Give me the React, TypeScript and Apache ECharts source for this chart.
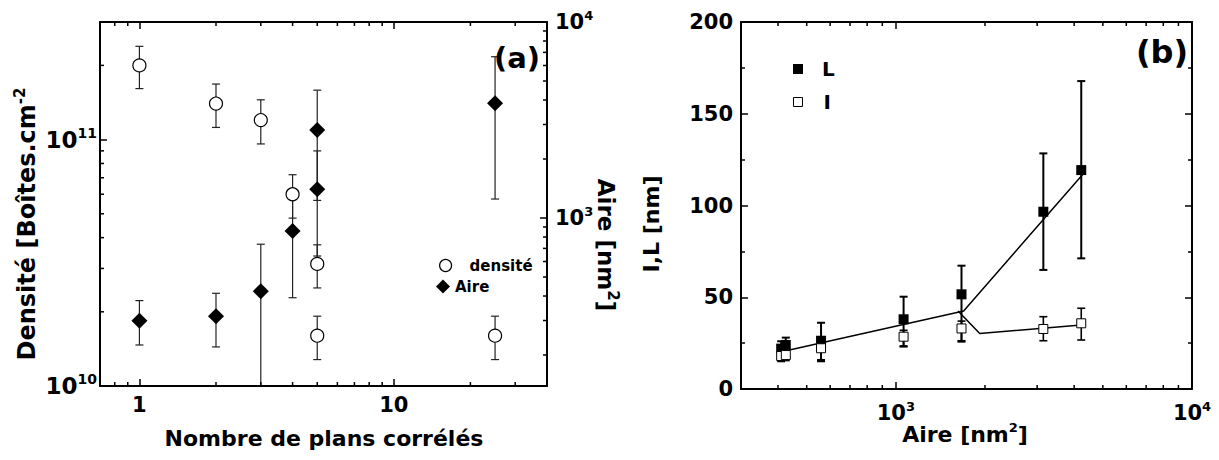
import React, { useEffect, useRef } from "react";
import * as echarts from "echarts";

const FONT = "DejaVu Sans";

// ---------- Panel (a) data ----------
const planCounts = [1, 2, 3, 4, 5, 5, 25];
const densite = [2.0e11, 1.4e11, 1.2e11, 6.0e10, 3.13e10, 1.6e10, 1.6e10];
const densiteLow = [1.61e11, 1.12e11, 9.6e10, 4.8e10, 2.5e10, 1.28e10, 1.28e10];
const densiteHigh = [2.39e11, 1.68e11, 1.45e11, 7.2e10, 3.74e10, 1.92e10, 1.92e10];
const aire = [299, 315, 423, 858, 2810, 1400, 3850];
const aireLow = [225, 220, 111, 392, 1230, 640, 1250];
const aireHigh = [379, 413, 735, 1324, 4490, 2200, 6650];

// ---------- Panel (b) data ----------
const aireB = [410, 425, 559, 1062, 1666, 3148, 4227];
const lValues = [22, 24, 26.3, 38, 51.6, 96.6, 119.3];
const lLow = [19, 20, 15.8, 23.4, 25.8, 64.9, 71.2];
const lHigh = [26, 28, 36.1, 50.3, 67.2, 128.4, 167.8];
const iValues = [18, 18.5, 22.2, 28.5, 33, 32.7, 35.8];
const iLow = [15, 15.5, 15, 23, 26.3, 26.3, 26.7];
const iHigh = [21, 22, 27, 32, 37, 39.4, 44];
const fitLX = [437, 1694, 4325];
const fitLY = [21.3, 42.5, 117.9];
const fitIX = [1622, 1920, 4325];
const fitIY = [42.5, 30.3, 35];

// ---------- tick values ----------
const xMajorA = [1, 10];
const xMinorA = [0.8, 0.9, 2, 3, 4, 5, 6, 7, 8, 9, 20, 30];
const yLeftMajorA = [1e10, 1e11];
const yLeftMinorA = [2e10, 3e10, 4e10, 5e10, 6e10, 7e10, 8e10, 9e10, 2e11];
const yRightMajorA = [1e3, 1e4];
const yRightMinorA = [200, 300, 400, 500, 600, 700, 800, 900, 2000, 3000, 4000, 5000, 6000, 7000, 8000, 9000];
const xMajorB = [1e3, 1e4];
const xMinorB = [400, 500, 600, 700, 800, 900, 2000, 3000, 4000, 5000, 6000, 7000, 8000, 9000];

const isPow10 = (v: number) => Math.abs(Math.log10(v) - Math.round(Math.log10(v))) < 1e-6;

const mkRich = (base: number, sup: number) => ({
  b: { fontFamily: FONT, fontWeight: "bold", fontSize: base, color: "#000", lineHeight: base + 5, verticalAlign: "middle" },
  s: { fontFamily: FONT, fontWeight: "bold", fontSize: sup, color: "#000", lineHeight: sup + 1, verticalAlign: "top" },
});
const richA = mkRich(23, 14);
const richB = mkRich(21, 13);

const powLabel = (v: number) => (isPow10(v) ? `{b|10}{s|${Math.round(Math.log10(v))}}` : "");
const plainLabel = (v: number) => (isPow10(v) ? `{b|${Math.round(v)}}` : "");

const axisLineStyle = { color: "#000", width: 2 };
const tickLine = { color: "#000", width: 1.5 };

function logAxis(grid: number, position: string, min: number, max: number, ticks: number[], label: any) {
  return {
    type: "log",
    logBase: 10,
    gridIndex: grid,
    position,
    min,
    max,
    axisLine: { show: true, onZero: false, lineStyle: axisLineStyle },
    axisTick: { show: true, inside: true, length: 7, customValues: ticks, lineStyle: tickLine },
    axisLabel: label ? { ...label } : { show: false },
    splitLine: { show: false },
    minorTick: { show: false },
    minorSplitLine: { show: false },
  };
}

const errRender = (half: number, lw: number, color: string) => (params: any, api: any) => {
  const x = api.value(0);
  const lo = api.value(1);
  const hi = api.value(2);
  const a = api.coord([x, hi]);
  const b = api.coord([x, lo]);
  const st = { stroke: color, lineWidth: lw };
  return {
    type: "group",
    children: [
      { type: "line", shape: { x1: a[0], y1: a[1], x2: b[0], y2: b[1] }, style: st },
      { type: "line", shape: { x1: a[0] - half, y1: a[1], x2: a[0] + half, y2: a[1] }, style: st },
      { type: "line", shape: { x1: b[0] - half, y1: b[1], x2: b[0] + half, y2: b[1] }, style: st },
    ],
  };
};

// minor tick marks drawn through the axes' own scales
const tickRender = (dir: "x" | "y", sides: string[], len: number) => (params: any, api: any) => {
  const cs = params.coordSys;
  const p = api.coord([api.value(0), api.value(1)]);
  const st = { stroke: "#000", lineWidth: 1.5 };
  const children: any[] = [];
  if (dir === "x") {
    if (sides.includes("bottom"))
      children.push({ type: "line", shape: { x1: p[0], y1: cs.y + cs.height, x2: p[0], y2: cs.y + cs.height - len }, style: st });
    if (sides.includes("top"))
      children.push({ type: "line", shape: { x1: p[0], y1: cs.y, x2: p[0], y2: cs.y + len }, style: st });
  } else {
    if (sides.includes("left"))
      children.push({ type: "line", shape: { x1: cs.x, y1: p[1], x2: cs.x + len, y2: p[1] }, style: st });
    if (sides.includes("right"))
      children.push({ type: "line", shape: { x1: cs.x + cs.width, y1: p[1], x2: cs.x + cs.width - len, y2: p[1] }, style: st });
  }
  return { type: "group", children };
};

const tickSeries = (xi: number, yi: number, data: number[][], dir: "x" | "y", sides: string[]) => ({
  type: "custom", xAxisIndex: xi, yAxisIndex: yi, silent: true, z: 5, clip: false,
  data, encode: { x: 0, y: 1 },
  renderItem: tickRender(dir, sides, 4),
});

const textBold = (size: number) => ({ fontFamily: FONT, fontWeight: "bold", fontSize: size, fill: "#000" });

export default function App() {
  const ref = useRef<HTMLDivElement>(null);
  useEffect(() => {
    if (!ref.current) return;
    const chart = echarts.init(ref.current, null, { renderer: "svg" });

    const legendText = (size: number, padLeft: number) => ({
      fontFamily: FONT, fontWeight: "bold", fontSize: size, color: "#000", padding: [0, 0, 0, padLeft],
    });

    const option: any = {
      animation: false,
      backgroundColor: "#fff",
      grid: [
        { left: 100, top: 22, width: 447, height: 364, containLabel: false, outerBoundsMode: "none" },
        { left: 741, top: 22, width: 451, height: 367, containLabel: false, outerBoundsMode: "none" },
      ],
      xAxis: [
        logAxis(0, "bottom", 0.7, 40, xMajorA, { show: true, customValues: xMajorA, formatter: plainLabel, rich: richB, margin: 6 }),
        logAxis(0, "top", 0.7, 40, xMajorA, null),
        logAxis(1, "bottom", 300, 10000, xMajorB, { show: true, customValues: xMajorB, formatter: powLabel, rich: richB, margin: 11 }),
        logAxis(1, "top", 300, 10000, xMajorB, null),
      ],
      yAxis: [
        logAxis(0, "left", 1e10, 3e11, yLeftMajorA, { show: true, customValues: yLeftMajorA, formatter: powLabel, rich: richA, margin: 3 }),
        logAxis(0, "right", 139, 10000, yRightMajorA, { show: true, customValues: yRightMajorA, formatter: powLabel, rich: richB, margin: 8 }),
        {
          type: "value", gridIndex: 1, position: "left", min: 0, max: 200, interval: 50,
          axisLine: { show: true, onZero: false, lineStyle: axisLineStyle },
          axisTick: { show: true, inside: true, length: 7, lineStyle: tickLine },
          minorTick: { show: true, splitNumber: 2, length: 4, lineStyle: tickLine },
          axisLabel: { show: true, margin: 8, formatter: (v: number) => `{b|${v}}`, rich: richB },
          splitLine: { show: false },
        },
        {
          type: "value", gridIndex: 1, position: "right", min: 0, max: 200, interval: 50,
          axisLine: { show: true, onZero: false, lineStyle: axisLineStyle },
          axisTick: { show: true, inside: true, length: 7, lineStyle: tickLine },
          minorTick: { show: true, splitNumber: 2, length: 4, lineStyle: tickLine },
          axisLabel: { show: false },
          splitLine: { show: false },
        },
      ],
      legend: [
        {
          data: [{ name: "densité", icon: "circle", itemStyle: { color: "#fff", borderColor: "#000", borderWidth: 1.2 } }],
          left: 439, top: 258, padding: 0, itemWidth: 12, itemHeight: 12, selectedMode: false,
          textStyle: legendText(15, 13),
        },
        {
          data: [{ name: "Aire", icon: "diamond", itemStyle: { color: "#000" } }],
          left: 436, top: 279, padding: 0, itemWidth: 14, itemHeight: 14, selectedMode: false,
          textStyle: legendText(15, 0),
        },
        {
          data: [{ name: "L", icon: "rect", itemStyle: { color: "#000" } }],
          left: 793, top: 59, padding: 0, itemWidth: 10, itemHeight: 10, selectedMode: false,
          textStyle: legendText(20, 14),
        },
        {
          data: [{ name: "I", icon: "rect", itemStyle: { color: "#fff", borderColor: "#000", borderWidth: 1 } }],
          left: 793, top: 92, padding: 0, itemWidth: 9, itemHeight: 9, selectedMode: false,
          textStyle: legendText(20, 16),
        },
      ],
      series: [
        tickSeries(0, 0, xMinorA.map((v) => [v, 1e11]), "x", ["bottom", "top"]),
        tickSeries(0, 0, yLeftMinorA.map((v) => [1, v]), "y", ["left"]),
        tickSeries(0, 1, yRightMinorA.map((v) => [1, v]), "y", ["right"]),
        tickSeries(2, 2, xMinorB.map((v) => [v, 100]), "x", ["bottom", "top"]),
        {
          name: "errDensite", type: "custom", xAxisIndex: 0, yAxisIndex: 0, clip: true, z: 1,
          data: planCounts.map((x, i) => [x, densiteLow[i], densiteHigh[i]]),
          encode: { x: 0, y: [1, 2] },
          renderItem: errRender(4, 1.2, "#222"),
        },
        {
          name: "errAire", type: "custom", xAxisIndex: 0, yAxisIndex: 1, clip: true, z: 1,
          data: planCounts.map((x, i) => [x, aireLow[i], aireHigh[i]]),
          encode: { x: 0, y: [1, 2] },
          renderItem: errRender(4, 1.2, "#222"),
        },
        {
          name: "densité", type: "scatter", xAxisIndex: 0, yAxisIndex: 0, z: 3,
          symbol: "circle", symbolSize: 13,
          itemStyle: { color: "#fff", borderColor: "#000", borderWidth: 1.2, opacity: 1 },
          data: planCounts.map((x, i) => [x, densite[i]]),
        },
        {
          name: "Aire", type: "scatter", xAxisIndex: 0, yAxisIndex: 1, z: 3,
          symbol: "diamond", symbolSize: 16,
          itemStyle: { color: "#000", opacity: 1 },
          data: planCounts.map((x, i) => [x, aire[i]]),
        },
        {
          name: "errL", type: "custom", xAxisIndex: 2, yAxisIndex: 2, clip: true, z: 1,
          data: aireB.map((x, i) => [x, lLow[i], lHigh[i]]),
          encode: { x: 0, y: [1, 2] },
          renderItem: errRender(4, 2, "#000"),
        },
        {
          name: "errI", type: "custom", xAxisIndex: 2, yAxisIndex: 2, clip: true, z: 1,
          data: aireB.map((x, i) => [x, iLow[i], iHigh[i]]),
          encode: { x: 0, y: [1, 2] },
          renderItem: errRender(4, 1.6, "#000"),
        },
        {
          name: "fitL", type: "line", xAxisIndex: 2, yAxisIndex: 2, z: 2, symbol: "none",
          lineStyle: { color: "#000", width: 1.5 },
          data: fitLX.map((x, i) => [x, fitLY[i]]),
        },
        {
          name: "fitI", type: "line", xAxisIndex: 2, yAxisIndex: 2, z: 2, symbol: "none",
          lineStyle: { color: "#000", width: 1.5 },
          data: fitIX.map((x, i) => [x, fitIY[i]]),
        },
        {
          name: "L", type: "scatter", xAxisIndex: 2, yAxisIndex: 2, z: 3,
          symbol: "rect", symbolSize: 10,
          itemStyle: { color: "#000", opacity: 1 },
          data: aireB.map((x, i) => [x, lValues[i]]),
        },
        {
          name: "I", type: "scatter", xAxisIndex: 2, yAxisIndex: 2, z: 3,
          symbol: "rect", symbolSize: 9,
          itemStyle: { color: "#fff", borderColor: "#000", borderWidth: 1, opacity: 1 },
          data: aireB.map((x, i) => [x, iValues[i]]),
        },
      ],
      graphic: [
        {
          type: "text", x: 517, y: 58, z: 10,
          style: { ...textBold(29), text: "(a)", align: "center", verticalAlign: "middle" },
        },
        {
          type: "text", x: 1162, y: 52, z: 10,
          style: { ...textBold(32), text: "(b)", align: "center", verticalAlign: "middle" },
        },
        {
          type: "text", x: 324, y: 438,
          style: { ...textBold(22), text: "Nombre de plans corrélés", align: "center", verticalAlign: "middle" },
        },
        {
          type: "text", x: 965, y: 434,
          style: {
            text: "{t|Aire [nm}{s|2}{t|]}", align: "center", verticalAlign: "middle",
            rich: {
              t: { fontFamily: FONT, fontWeight: "bold", fontSize: 22, fill: "#000", lineHeight: 26, verticalAlign: "middle" },
              s: { fontFamily: FONT, fontWeight: "bold", fontSize: 13, fill: "#000", lineHeight: 14, verticalAlign: "top" },
            },
          },
        },
        {
          type: "text", x: 27, y: 224, rotation: Math.PI / 2,
          style: {
            text: "{t|Densité [Boîtes.cm}{s|-2}", align: "center", verticalAlign: "middle",
            rich: {
              t: { fontFamily: FONT, fontWeight: "bold", fontSize: 24, fill: "#000", lineHeight: 29, verticalAlign: "middle" },
              s: { fontFamily: FONT, fontWeight: "bold", fontSize: 15, fill: "#000", lineHeight: 16, verticalAlign: "top" },
            },
          },
        },
        {
          type: "text", x: 606, y: 245, rotation: -Math.PI / 2,
          style: {
            text: "{t|Aire [nm}{s|2}{t|]}", align: "center", verticalAlign: "middle",
            rich: {
              t: { fontFamily: FONT, fontWeight: "bold", fontSize: 23, fill: "#000", lineHeight: 28, verticalAlign: "middle" },
              s: { fontFamily: FONT, fontWeight: "bold", fontSize: 15, fill: "#000", lineHeight: 16, verticalAlign: "top" },
            },
          },
        },
        {
          type: "text", x: 651, y: 224, rotation: Math.PI / 2,
          style: { ...textBold(22), text: "I,L [nm]", align: "center", verticalAlign: "middle" },
        },
      ],
    };

    chart.setOption(option);
    return () => chart.dispose();
  }, []);

  return (
    <div
      ref={ref}
      style={{ position: "absolute", left: 0, top: 0, width: 1219, height: 460, background: "#fff" }}
    />
  );
}
